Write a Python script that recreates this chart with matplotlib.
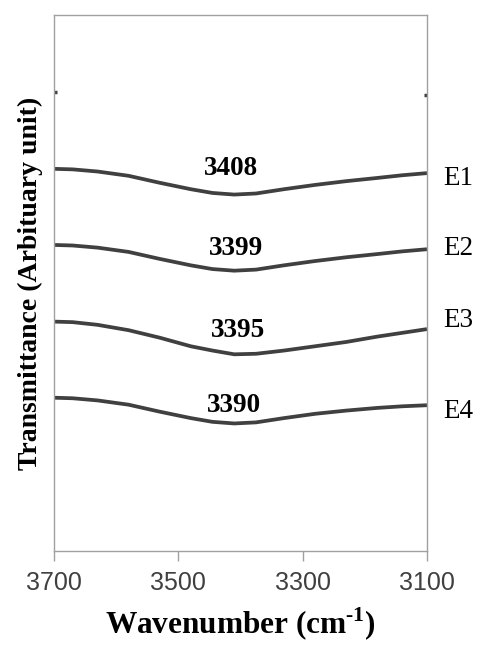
import numpy as np
import matplotlib
matplotlib.use("Agg")
import matplotlib.pyplot as plt

plt.rcParams['font.family'] = ['Liberation Serif', 'DejaVu Serif']
plt.rcParams['mathtext.fontset'] = 'custom'
plt.rcParams['mathtext.rm'] = 'Liberation Serif:bold'

# wavenumber grid (cm-1) and transmittance traces (arbitrary units)
wavenumber = [3700, 3670, 3630, 3580, 3530, 3480, 3445, 3410,
              3375, 3330, 3280, 3230, 3180, 3140, 3100]
e1 = [71.3, 71.2, 70.8, 70.0, 68.7, 67.5, 66.8, 66.5,
      66.7, 67.5, 68.3, 69.0, 69.6, 70.1, 70.5]
e2 = [57.1, 57.0, 56.6, 55.8, 54.5, 53.3, 52.6, 52.3,
      52.5, 53.3, 54.1, 54.8, 55.4, 55.9, 56.3]
e3 = [42.8, 42.7, 42.2, 41.2, 39.8, 38.2, 37.4, 36.7,
      36.8, 37.4, 38.2, 39.0, 40.0, 40.7, 41.4]
e4 = [28.6, 28.5, 28.1, 27.3, 26.0, 24.8, 24.1, 23.8,
      24.0, 24.8, 25.6, 26.2, 26.7, 27.0, 27.2]
series = [e1, e2, e3, e4]
series_names = ["E1", "E2", "E3", "E4"]

# peak positions written above each trace
peak_labels = ["3408", "3399", "3395", "3390"]
peak_x = [3415, 3407, 3404, 3410]
peak_y = [70.1, 55.2, 39.9, 25.9]

# right-hand sample labels (vertical position)
name_y = [68.2, 55.2, 41.8, 24.8]

# clipped stubs of a trace at the top edge
stub_left_x = [3700, 3695]
stub_left_y = [85.6, 85.6]
stub_right_x = [3105, 3100]
stub_right_y = [85.1, 85.1]

xticks = [3700, 3500, 3300, 3100]

fig = plt.figure(figsize=(4.79, 6.46), dpi=100)
ax = fig.add_axes([0.1127, 0.147, 0.7787, 0.8298])

line_color = "#404040"
for ys in series:
    ax.plot(wavenumber, ys, color=line_color, lw=2.7, solid_capstyle="butt",
            solid_joinstyle="round")
ax.plot(stub_left_x, stub_left_y, color=line_color, lw=2.5, solid_capstyle="butt")
ax.plot(stub_right_x, stub_right_y, color=line_color, lw=2.5, solid_capstyle="butt")

for lab, x, y in zip(peak_labels, peak_x, peak_y):
    ax.text(x, y, lab, ha="center", va="baseline", fontsize=19.5,
            fontweight="bold", color="black")

for name, y in zip(series_names, name_y):
    ax.text(1.043, y, name, transform=ax.get_yaxis_transform(), ha="left",
            va="baseline", fontsize=19.5, color="black")

ax.set_xlim(3700, 3100)
ax.set_ylim(0, 100)
ax.set_xticks(xticks)
ax.set_xticklabels([str(t) for t in xticks], family="Liberation Sans",
                   fontsize=18, color="#404040")
ax.set_yticks([])
ax.tick_params(axis="x", direction="out", length=7.2, width=1, color="#a0a0a0", pad=7)

for sp in ax.spines.values():
    sp.set_color("#a0a0a0")
    sp.set_linewidth(1)

ax.set_xlabel(r"Wavenumber (cm$^{\text{-1}}$)", fontsize=22.5,
              fontweight="bold", labelpad=8)
ax.set_ylabel("Transmittance (Arbituary unit)", fontsize=20,
              fontweight="bold", labelpad=8)

fig.savefig("out.png", dpi=100)
